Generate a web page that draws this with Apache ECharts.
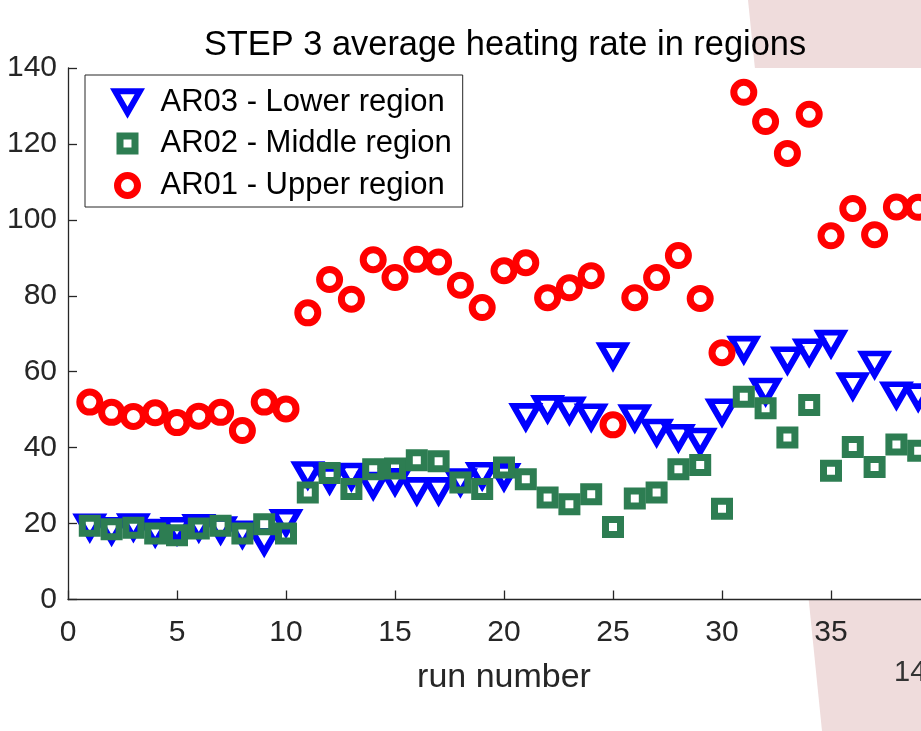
<!DOCTYPE html>
<html>
<head>
<meta charset="utf-8">
<script src="https://cdn.jsdelivr.net/npm/echarts@6/dist/echarts.min.js"></script>
<style>
  html, body { margin: 0; padding: 0; background: #ffffff; }
  #chart { width: 921px; height: 731px; }
</style>
</head>
<body>
<div id="chart"></div>
<script>
// Run numbers (x) and the average heating rate per region for STEP 3
const runs = [1, 2, 3, 4, 5, 6, 7, 8, 9, 10,
              11, 12, 13, 14, 15, 16, 17, 18, 19, 20,
              21, 22, 23, 24, 25, 26, 27, 28, 29, 30,
              31, 32, 33, 34, 35, 36, 37, 38, 39];

const ar03Lower = [19.1, 18.2, 19.2, 17.7, 18.2, 19.0, 18.4, 17.3, 15.3, 20.3,
                   32.9, 31.6, 32.5, 30.1, 31.1, 28.7, 28.7, 31.0, 32.7, 32.4,
                   48.2, 50.3, 49.9, 48.1, 64.2, 47.9, 44.1, 42.7, 41.7, 49.4,
                   65.9, 54.9, 63.1, 65.2, 67.5, 56.3, 62.0, 53.9, 53.4];

const ar02Middle = [19.4, 18.5, 18.9, 17.4, 16.9, 18.7, 19.4, 17.4, 19.8, 17.4,
                    28.2, 33.3, 29.1, 34.3, 34.5, 36.7, 36.4, 30.8, 29.1, 34.8,
                    31.7, 26.9, 25.1, 27.7, 19.1, 26.6, 28.2, 34.3, 35.4, 23.9,
                    53.4, 50.4, 42.7, 51.2, 33.9, 40.2, 34.9, 40.8, 39.2];

const ar01Upper = [52.0, 49.3, 48.2, 49.2, 46.6, 48.3, 49.3, 44.5, 52.0, 50.2,
                   75.5, 84.3, 79.1, 89.5, 84.8, 89.6, 88.9, 82.8, 76.9, 86.6,
                   88.7, 79.5, 82.1, 85.3, 46.0, 79.5, 84.8, 90.6, 79.3, 65.0,
                   133.6, 125.9, 117.5, 127.8, 95.8, 103.0, 96.1, 103.4, 103.3];

const seriesNames = ['AR03 - Lower region', 'AR02 - Middle region', 'AR01 - Upper region'];
const xTicks = [0, 5, 10, 15, 20, 25, 30, 35, 40];
const yTicks = [0, 20, 40, 60, 80, 100, 120, 140];

const FONT = "'Liberation Sans', Arial, Helvetica, sans-serif";
const AXIS_COLOR = '#262626';
const BLUE = '#0000ff';
const GREEN = '#2d7d52';
const RED = '#ff0000';
const HOLLOW = 'rgba(255,255,255,0)';

const pairs = (ys) => runs.map((r, i) => [r, ys[i]]);

// marker shapes (legend variants carry corner points so all share one box)
const TRI_PATH = 'path://M0,0L24.6,0L12.3,21.3Z';
const LEG_TRI = 'path://M0,0M30,30M2.7,4.35L27.3,4.35L15,25.65Z';
const LEG_SQ = 'path://M0,0M30,30M7.5,7.5L22.5,7.5L22.5,22.5L7.5,22.5Z';
const LEG_CIR = 'path://M0,0M30,30M5,15A10,10,0,1,0,25,15A10,10,0,1,0,5,15Z';

const chart = echarts.init(document.getElementById('chart'), null, { renderer: 'canvas' });

chart.setOption({
  animation: false,
  backgroundColor: '#ffffff',
  textStyle: { fontFamily: FONT },
  graphic: [
    {
      // slide backdrop showing around the axes
      type: 'polygon',
      z: -10,
      silent: true,
      shape: { points: [[748, 0], [921, 0], [921, 731], [822, 731]] },
      style: { fill: '#efdcdc' }
    },
    {
      type: 'text',
      left: 894,
      top: 658,
      silent: true,
      style: { text: '14', fontSize: 29, fontFamily: FONT, fill: '#333333' }
    }
  ],
  title: {
    text: 'STEP 3 average heating rate in regions',
    left: 500,
    top: 24,
    textAlign: 'center',
    textStyle: { fontSize: 34.4, fontWeight: 'normal', color: '#000000', fontFamily: FONT }
  },
  grid: {
    show: true,
    left: 68,
    top: 68,
    width: 872,
    height: 531.5,
    outerBoundsMode: 'none',
    backgroundColor: '#ffffff',
    borderWidth: 0,
    containLabel: false
  },
  legend: {
    orient: 'vertical',
    left: 85,
    top: 75,
    padding: [9, 11, 3, 24],
    itemWidth: 56,
    itemHeight: 30,
    itemGap: 5,
    backgroundColor: '#ffffff',
    borderColor: AXIS_COLOR,
    borderWidth: 1,
    borderRadius: 0,
    selectedMode: false,
    textStyle: { fontSize: 31, lineHeight: 30, color: '#000000', fontFamily: FONT },
    data: [
      { name: seriesNames[0], icon: LEG_TRI,
        itemStyle: { color: HOLLOW, borderColor: BLUE, borderWidth: 6, borderJoin: 'miter' } },
      { name: seriesNames[1], icon: LEG_SQ,
        itemStyle: { color: HOLLOW, borderColor: GREEN, borderWidth: 7, borderJoin: 'miter' } },
      { name: seriesNames[2], icon: LEG_CIR,
        itemStyle: { color: HOLLOW, borderColor: RED, borderWidth: 7 } }
    ]
  },
  xAxis: {
    type: 'value',
    min: 0,
    max: 40,
    interval: 5,
    name: 'run number',
    nameLocation: 'middle',
    nameGap: 61,
    nameTextStyle: { fontSize: 34, color: '#262626', fontFamily: FONT },
    axisLine: { show: true, onZero: false, lineStyle: { color: AXIS_COLOR, width: 1.3 } },
    axisTick: { show: true, inside: true, length: 9, lineStyle: { color: AXIS_COLOR, width: 1.3 } },
    axisLabel: {
      margin: 18,
      fontSize: 30,
      color: '#262626',
      fontFamily: FONT,
      formatter: (v) => (xTicks.indexOf(v) >= 0 ? String(v) : '')
    },
    splitLine: { show: false }
  },
  yAxis: {
    type: 'value',
    min: 0,
    max: 140,
    interval: 20,
    axisLine: { show: true, onZero: false, lineStyle: { color: AXIS_COLOR, width: 1.3 } },
    axisTick: { show: true, inside: true, length: 9, lineStyle: { color: AXIS_COLOR, width: 1.3 } },
    axisLabel: {
      margin: 11,
      fontSize: 30,
      color: '#262626',
      fontFamily: FONT,
      formatter: (v) => (yTicks.indexOf(v) >= 0 ? String(v) : '')
    },
    splitLine: { show: false }
  },
  series: [
    {
      name: seriesNames[0],
      type: 'scatter',
      silent: true,
      symbol: TRI_PATH,
      symbolSize: [24.6, 21.3],
      itemStyle: { color: HOLLOW, borderColor: BLUE, borderWidth: 6, borderJoin: 'miter', borderMiterLimit: 10, opacity: 1 },
      data: pairs(ar03Lower)
    },
    {
      name: seriesNames[1],
      type: 'scatter',
      silent: true,
      symbol: 'rect',
      symbolSize: 15,
      itemStyle: { color: HOLLOW, borderColor: GREEN, borderWidth: 7, borderJoin: 'miter', opacity: 1 },
      data: pairs(ar02Middle)
    },
    {
      name: seriesNames[2],
      type: 'scatter',
      silent: true,
      symbol: 'circle',
      symbolSize: 20,
      itemStyle: { color: HOLLOW, borderColor: RED, borderWidth: 7, opacity: 1 },
      data: pairs(ar01Upper)
    }
  ]
});
</script>
</body>
</html>
